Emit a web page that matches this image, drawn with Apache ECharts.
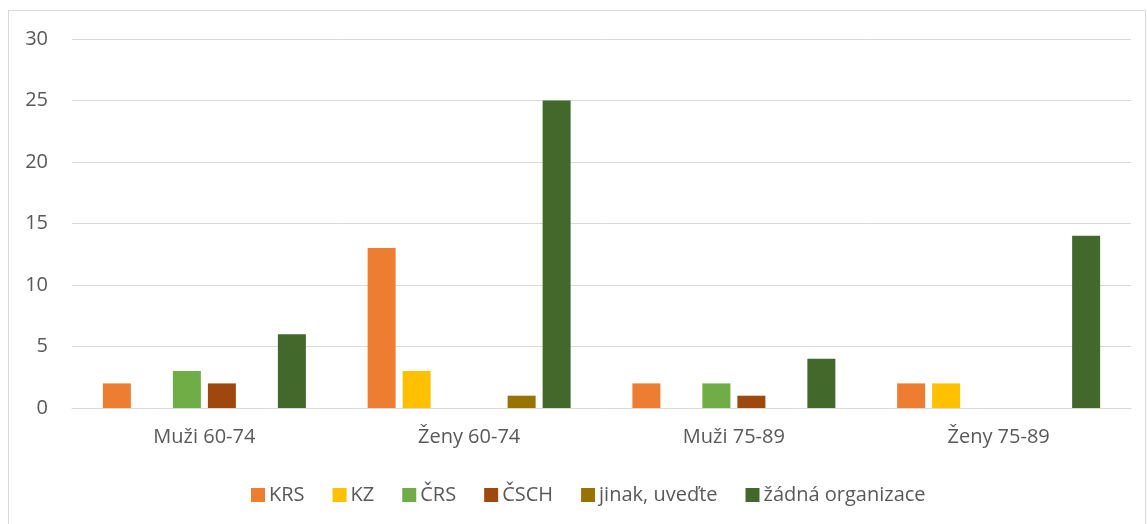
<!DOCTYPE html>
<html>
<head>
<meta charset="utf-8">
<script src="https://cdn.jsdelivr.net/npm/echarts@6/dist/echarts.min.js"></script>
<style>
  html, body { margin: 0; padding: 0; background: #fff; }
  .frame {
    position: absolute; left: 8px; top: 10px; width: 1138px; height: 520px;
    border: 1px solid #d9d9d9; box-sizing: border-box;
  }
  #chart { position: absolute; left: 0; top: 0; width: 1147px; height: 524px; }
</style>
</head>
<body>
<div class="frame"></div>
<div id="chart"></div>
<script>
// kategorie a hodnoty
var categories = ['Muži 60-74', 'Ženy 60-74', 'Muži 75-89', 'Ženy 75-89'];
var seriesNames = ['KRS', 'KZ', 'ČRS', 'ČSCH', 'jinak, uveďte', 'žádná organizace'];
var krs = [2, 13, 2, 2];
var kz = [0, 3, 0, 2];
var crs = [3, 0, 2, 0];
var csch = [2, 0, 1, 0];
var jinak = [0, 1, 0, 0];
var zadna = [6, 25, 4, 14];
var colors = ['#ED7D31', '#FFC000', '#70AD47', '#9E480E', '#997300', '#43682B'];

var values = [krs, kz, crs, csch, jinak, zadna];
var font = '"Open Sans", "Liberation Sans", sans-serif';

var chart = echarts.init(document.getElementById('chart'));
chart.setOption({
    animation: false,
    color: colors,
    grid: { left: 72, right: 16, top: 39, bottom: 116, containLabel: false },
    legend: {
        top: 480,
        left: 246,
        itemWidth: 14,
        itemHeight: 14,
        itemGap: 28,
        icon: 'rect',
        textStyle: { color: '#595959', fontSize: 20, fontFamily: font, padding: [0, 0, 0, -1] },
        data: seriesNames
    },
    xAxis: {
        type: 'category',
        data: categories,
        axisLine: { lineStyle: { color: '#d9d9d9', width: 1 } },
        axisTick: { show: false },
        axisLabel: { color: '#595959', fontSize: 20, fontFamily: font, margin: 19 }
    },
    yAxis: {
        type: 'value',
        min: 0,
        max: 30,
        interval: 5,
        axisLine: { show: false },
        axisTick: { show: false },
        splitLine: { lineStyle: { color: '#d9d9d9', width: 1 } },
        axisLabel: { color: '#595959', fontSize: 20, fontFamily: font, margin: 24 }
    },
    series: seriesNames.map(function (name, i) {
        return {
            name: name,
            type: 'bar',
            data: values[i],
            barWidth: 28,
            barGap: '25%',
            barCategoryGap: '23%'
        };
    })
});
</script>
</body>
</html>
